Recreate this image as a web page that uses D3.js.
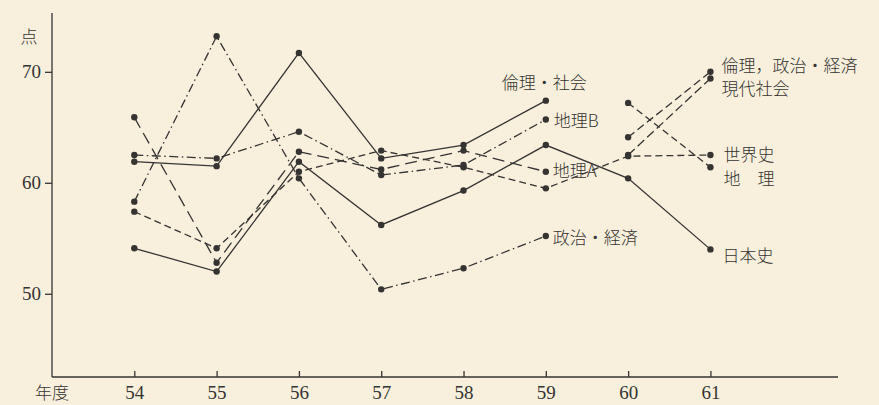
<!DOCTYPE html>
<html>
<head>
<meta charset="utf-8">
<script src="https://cdn.jsdelivr.net/npm/d3@7"></script>
<style>
  html, body { margin: 0; padding: 0; background: #f8efdc; }
  svg { display: block; }
</style>
</head>
<body>
<div id="chart"></div>
<script>
// 年度 (昭和)
const years = [54, 55, 56, 57, 58, 59, 60, 61];
const yTicks = [50, 60, 70];

// 平均点 by subject (null = not offered that year)
const nihonshi     = [54.1, 52.0, 61.9, 56.2, 59.3, 63.4, 60.4, 54.0];
const sekaishi     = [57.4, 54.1, 61.0, 62.9, 61.4, 59.5, 62.4, 62.5];
const rinriShakai  = [61.9, 61.5, 71.7, 62.2, 63.4, 67.4, null, null];
const seijiKeizai  = [58.3, 73.2, 60.4, 50.4, 52.3, 55.2, null, null];
const chiriA       = [65.9, 52.8, 62.8, 61.2, 62.9, 61.0, null, null];
const chiriB       = [62.5, 62.2, 64.6, 60.7, 61.6, 65.7, null, null];
const chiri        = [null, null, null, null, null, null, 67.2, 61.4];
const rinriSeikei  = [null, null, null, null, null, null, 64.1, 70.0];
const gendaiShakai = [null, null, null, null, null, null, 62.5, 69.4];

document.addEventListener('DOMContentLoaded', function() {
    const width = 879, height = 405;
    const ink = "#353433";

    const svg = d3.select("#chart")
                  .append("svg")
                  .attr("width", width)
                  .attr("height", height);

    svg.append("rect")
       .attr("width", width).attr("height", height)
       .attr("fill", "#f8efdc");

    const x = d3.scaleLinear()
                .domain([53, 62.55])
                .range([52, 838]);

    const y = d3.scaleLinear()
                .domain([42.5, 75.3])
                .range([377, 13]);

    // series styling and label placement (offsets from the last point)
    const series = [
        { name: "日本史",         values: nihonshi,     dash: null,            dx: 12,  dy: 5 },
        { name: "世界史",         values: sekaishi,     dash: "7,4",           dx: 13,  dy: -2 },
        { name: "倫理・社会",     values: rinriShakai,  dash: null,            dx: -44, dy: -19 },
        { name: "政治・経済",     values: seijiKeizai,  dash: "9,3.5,1.5,3.5", dx: 7,   dy: 0 },
        { name: "地理A",          values: chiriA,       dash: "12,6",          dx: 7,   dy: -2 },
        { name: "地理B",          values: chiriB,       dash: "9,3.5,1.5,3.5", dx: 8,   dy: 0 },
        { name: "地　理",         values: chiri,        dash: "7,4",           dx: 13,  dy: 10 },
        { name: "倫理，政治・経済", values: rinriSeikei, dash: "8,4",          dx: 11,  dy: -7 },
        { name: "現代社会",       values: gendaiShakai, dash: "9,4",           dx: 11,  dy: 9 }
    ];

    // axes
    const gy = svg.append("g")
                  .attr("transform", `translate(${x.range()[0]},0)`)
                  .call(d3.axisLeft(y).tickValues(yTicks).tickSize(7).tickPadding(4));

    const gx = svg.append("g")
                  .attr("transform", `translate(0,${y.range()[0]})`)
                  .call(d3.axisBottom(x).tickValues(years).tickSize(-6).tickPadding(12)
                          .tickFormat(d3.format("d")));

    [gx, gy].forEach(g => {
        g.select(".domain").attr("stroke", ink).attr("stroke-width", 1.3);
        g.selectAll(".tick line").attr("stroke", ink).attr("stroke-width", 1.3);
        g.selectAll(".tick text")
         .attr("fill", ink)
         .attr("font-family", "'Liberation Serif', 'DejaVu Serif', serif")
         .attr("font-size", "19px");
    });
    gx.select(".domain").attr("d", `M${x.range()[0]},0H${x.range()[1]}`);
    gy.select(".domain").attr("d", `M0,${y.range()[0]}V${y.range()[1]}`);
    gx.selectAll(".tick text").attr("dy", "0.5em");

    const jp = "'Noto Sans CJK JP', 'Noto Sans', sans-serif";

    svg.append("text")
       .attr("x", 29).attr("y", 35)
       .attr("text-anchor", "middle")
       .attr("dominant-baseline", "central")
       .attr("font-family", jp)
       .attr("font-weight", 300)
       .attr("font-size", "17px")
       .attr("fill", ink)
       .text("点");

    svg.append("text")
       .attr("x", 52).attr("y", 391)
       .attr("text-anchor", "middle")
       .attr("dominant-baseline", "central")
       .attr("font-family", jp)
       .attr("font-weight", 300)
       .attr("font-size", "17px")
       .attr("fill", ink)
       .text("年度");

    const line = d3.line()
                   .defined(d => d.v != null)
                   .x(d => x(d.year))
                   .y(d => y(d.v));

    series.forEach(s => {
        const pts = years.map((yr, i) => ({ year: yr, v: s.values[i] }));
        const valid = pts.filter(d => d.v != null);

        svg.append("path")
           .datum(pts)
           .attr("fill", "none")
           .attr("stroke", ink)
           .attr("stroke-width", 1.3)
           .attr("stroke-dasharray", s.dash)
           .attr("d", line);

        svg.selectAll(null)
           .data(valid)
           .enter().append("circle")
           .attr("cx", d => x(d.year))
           .attr("cy", d => y(d.v))
           .attr("r", 3.2)
           .attr("fill", ink);

        const last = valid[valid.length - 1];
        svg.append("text")
           .attr("x", x(last.year) + s.dx)
           .attr("y", y(last.v) + s.dy)
           .attr("dominant-baseline", "central")
           .attr("font-family", jp)
           .attr("font-weight", 300)
           .attr("font-size", "17px")
           .attr("fill", ink)
           .text(s.name);
    });
});
</script>
</body>
</html>
